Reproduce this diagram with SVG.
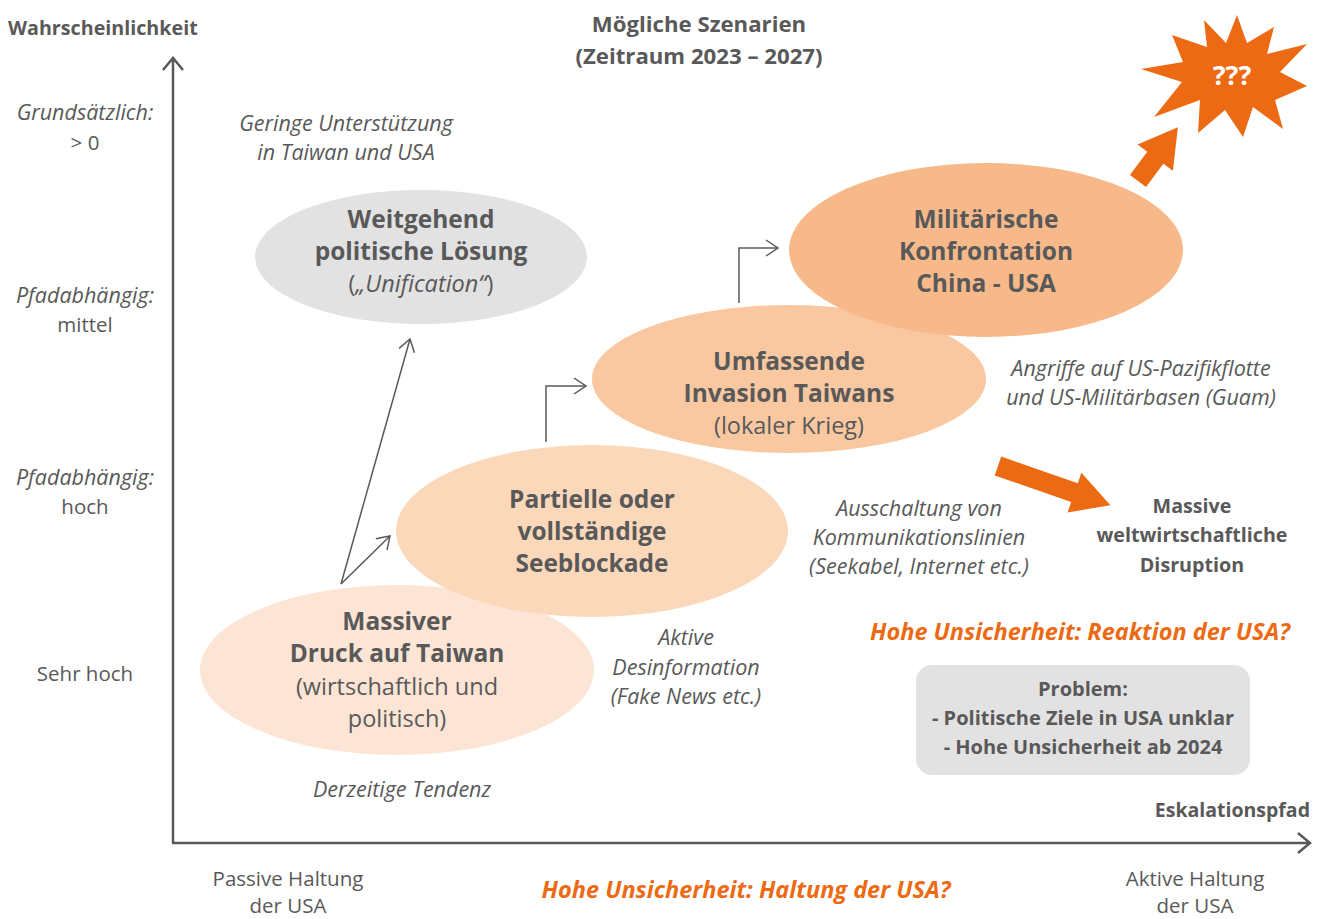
<svg xmlns="http://www.w3.org/2000/svg" width="1325" height="919" viewBox="0 0 1325 919">
<defs>
<style>
text{font-family:"Open Sans","Noto Sans",sans-serif;fill:#595959;}
.b{font-weight:bold;}
.i{font-style:italic;}
.c{text-anchor:middle;}
.t{font-size:24.5px;font-weight:bold;}
.r{font-size:23.5px;}
.s{font-size:20.5px;}
.si{font-size:21.5px;font-style:italic;}
.o{fill:#ec6a13;font-weight:bold;font-style:italic;font-size:23.5px;}
.ax{fill:none;stroke:#595959;stroke-width:2.5;}
.ln{fill:none;stroke:#595959;stroke-width:1.5;}
</style>
<marker id="ah" markerUnits="userSpaceOnUse" viewBox="-14 -9 16 18" markerWidth="16" markerHeight="18" refX="0" refY="0" orient="auto">
<path d="M-12,-8 L0,0 L-12,8" fill="none" stroke="#595959" stroke-width="1.5"/>
</marker>
</defs>
<rect width="1325" height="919" fill="#ffffff"/>

<g id="axes">
<path class="ax" d="M173,843 V59 M163,70 L173,58 L183,70"/>
<path class="ax" d="M172,843 H1309 M1298,833 L1310,843 L1298,853"/>
<text class="b" x="8" y="35" font-size="19.7">Wahrscheinlichkeit</text>
<text class="b" x="1310" y="817" font-size="19.5" text-anchor="end">Eskalationspfad</text>
</g>

<g id="title">
<text class="b c" x="699" y="32" font-size="22.2">Mögliche Szenarien</text>
<text class="b c" x="699" y="64" font-size="22.2">(Zeitraum 2023 – 2027)</text>
</g>

<g id="y-labels">
<text class="si c" x="85" y="120">Grundsätzlich:</text>
<text class="c s" x="85" y="150">&gt; 0</text>
<text class="si c" x="85" y="303">Pfadabhängig:</text>
<text class="c s" x="85" y="332">mittel</text>
<text class="si c" x="85" y="485">Pfadabhängig:</text>
<text class="c s" x="85" y="514">hoch</text>
<text class="c s" x="85" y="681">Sehr hoch</text>
</g>

<g id="x-labels">
<text class="c s" x="288" y="886">Passive Haltung</text>
<text class="c s" x="288" y="913">der USA</text>
<text class="c s" x="1195" y="886">Aktive Haltung</text>
<text class="c s" x="1195" y="913">der USA</text>
<text class="o c" x="746" y="898">Hohe Unsicherheit: Haltung der USA?</text>
</g>

<g id="node-loesung">
<ellipse cx="421" cy="257" rx="166" ry="67" fill="#e3e2e2"/>
<text class="t c" x="421" y="228">Weitgehend</text>
<text class="t c" x="421" y="260">politische Lösung</text>
<text class="r c" x="421" y="292">(<tspan font-style="italic">„Unification“</tspan>)</text>
</g>

<g id="node-druck">
<ellipse cx="397" cy="670" rx="197" ry="85" fill="#fde5d5"/>
<text class="t c" x="397" y="630">Massiver</text>
<text class="t c" x="397" y="662">Druck auf Taiwan</text>
<text class="r c" x="397" y="695">(wirtschaftlich und</text>
<text class="r c" x="397" y="727">politisch)</text>
</g>

<g id="node-blockade">
<ellipse cx="592" cy="531" rx="196" ry="86" fill="#fbd8b9"/>
<text class="t c" x="592" y="508">Partielle oder</text>
<text class="t c" x="592" y="540">vollständige</text>
<text class="t c" x="592" y="572">Seeblockade</text>
</g>

<g id="node-invasion">
<ellipse cx="789" cy="379" rx="197" ry="74" fill="#f9c8a0"/>
<text class="t c" x="789" y="370">Umfassende</text>
<text class="t c" x="789" y="402">Invasion Taiwans</text>
<text class="r c" x="789" y="434">(lokaler Krieg)</text>
</g>

<g id="node-konfrontation">
<ellipse cx="986" cy="250" rx="197" ry="87" fill="#f7b98a"/>
<text class="t c" x="986" y="228">Militärische</text>
<text class="t c" x="986" y="260">Konfrontation</text>
<text class="t c" x="986" y="292">China - USA</text>
</g>

<g id="node-star">
<polygon fill="#ec6a13" points="1237,15 1247,43 1274,27 1267,54 1307,44 1280,72 1307,86 1275,100 1283,129 1253,107 1243,137 1225,110 1198,133 1200,100 1154,117 1182,82 1141,69 1183,62 1172,35 1207,47 1204,20 1226,43"/>
<text class="b c" x="1232" y="85" font-size="27" style="fill:#ffffff">???</text>
</g>

<g id="node-disruption">
<text class="b c" x="1192" y="513" font-size="19.7">Massive</text>
<text class="b c" x="1192" y="542" font-size="19.7">weltwirtschaftliche</text>
<text class="b c" x="1192" y="572" font-size="19.7">Disruption</text>
</g>

<g id="node-problem">
<rect x="916" y="665" width="334" height="110" rx="16" fill="#e3e2e2"/>
<text class="b c" x="1083" y="696" font-size="20">Problem:</text>
<text class="b c" x="1083" y="725" font-size="20">- Politische Ziele in USA unklar</text>
<text class="b c" x="1083" y="754" font-size="20">- Hohe Unsicherheit ab 2024</text>
</g>

<g id="annotations">
<text class="si c" x="346" y="131">Geringe Unterstützung</text>
<text class="si c" x="346" y="160">in Taiwan und USA</text>
<text class="si c" x="1141" y="376">Angriffe auf US-Pazifikflotte</text>
<text class="si c" x="1141" y="405">und US-Militärbasen (Guam)</text>
<text class="si c" x="919" y="516">Ausschaltung von</text>
<text class="si c" x="919" y="545">Kommunikationslinien</text>
<text class="si c" x="919" y="574">(Seekabel, Internet etc.)</text>
<text class="si c" x="686" y="645">Aktive</text>
<text class="si c" x="686" y="675">Desinformation</text>
<text class="si c" x="686" y="704">(Fake News etc.)</text>
<text class="si c" x="402" y="797">Derzeitige Tendenz</text>
<text class="o c" x="1080" y="640">Hohe Unsicherheit: Reaktion der USA?</text>
</g>

<g id="connectors">
<path class="ln" d="M341,584 L410,339" marker-end="url(#ah)"/>
<path class="ln" d="M341,584 L390,536" marker-end="url(#ah)"/>
<path class="ln" d="M546,442 V386 H586" marker-end="url(#ah)"/>
<path class="ln" d="M739,303 V248 H778" marker-end="url(#ah)"/>
<g fill="#ec6a13">
<polygon transform="translate(1138,181) rotate(-53.5)" points="0,-10 29,-10 29,-22 67,0 29,22 29,10 0,10"/>
<polygon transform="translate(998,466) rotate(19.2)" points="0,-10 81,-10 81,-21 119,0 81,21 81,10 0,10"/>
</g>
</g>
</svg>
